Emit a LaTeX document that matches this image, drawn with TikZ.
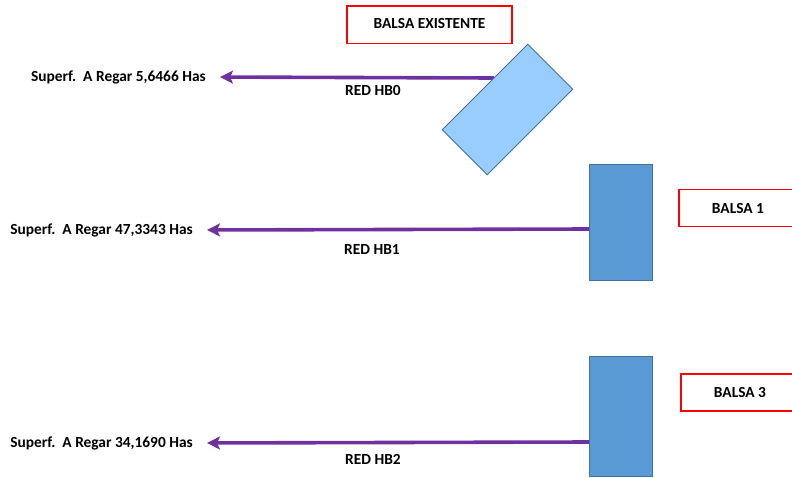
\documentclass[tikz,border=0pt]{standalone}
\usepackage{fontspec}
\setmainfont{Carlito}
\usetikzlibrary{arrows.meta}
\definecolor{flowpurple}{HTML}{7030A0}
\definecolor{pondblue}{HTML}{5B9BD5}
\definecolor{pondlight}{HTML}{99CCFF}
\definecolor{pondedge}{HTML}{41719C}
\definecolor{labelred}{HTML}{FF0000}
\tikzset{
  txt/.style={font=\fontsize{15.4}{17}\selectfont\bfseries},
  pond/.style={draw=pondedge, line width=0.9pt, fill=pondblue, minimum width=63pt, minimum height=116pt, inner sep=0pt},
  tag/.style={draw=labelred, line width=1.1pt, fill=white, inner sep=0pt, txt},
  area/.style={anchor=east, inner sep=0pt, txt},
  netname/.style={inner sep=0pt, txt},
  flow/.style={draw=flowpurple, line width=3.6pt, -{Stealth[length=13pt, width=13pt, inset=3pt]}, shorten >=14pt}
}
\begin{document}
\begin{tikzpicture}[x=1pt, y=-1pt]
  \useasboundingbox (0,0) rectangle (792,477);

  % area labels at the arrow tips
  \node[area] (a0) at (206,77) {Superf.\ \ A Regar 5,6466 Has};
  \node[area] (a1) at (193,230) {Superf.\ \ A Regar 47,3343 Has};
  \node[area] (a2) at (193,443) {Superf.\ \ A Regar 34,1690 Has};

  % starting points of the networks on the ponds
  \coordinate (s0) at (494,78);
  \coordinate (s1) at (590,229);
  \coordinate (s2) at (589,442);

  % irrigation networks
  \draw[flow] (s0) -- (a0.east);
  \draw[flow] (s1) -- (a1.east);
  \draw[flow] (s2) -- (a2.east);

  \node[netname] (n0) at (373,91) {RED HB0};
  \node[netname] (n1) at (372,249) {RED HB1};
  \node[netname] (n2) at (373,459) {RED HB2};

  % ponds
  \node[pond, fill=pondlight, minimum width=121pt, minimum height=63.5pt, rotate=45] (p0) at (507.5,109.5) {};
  \node[pond] (p1) at (621,222) {};
  \node[pond, minimum height=120pt] (p2) at (620.5,416) {};

  % pond names
  \node[tag, minimum width=165pt, minimum height=37.5pt] (b0) at (429.5,24.7) {\raisebox{2pt}{BALSA EXISTENTE}};
  \node[tag, minimum width=118pt, minimum height=37.5pt] (b1) at (738,208) {BALSA 1};
  \node[tag, minimum width=118pt, minimum height=37pt] (b3) at (740,392.5) {BALSA 3};
\end{tikzpicture}
\end{document}
